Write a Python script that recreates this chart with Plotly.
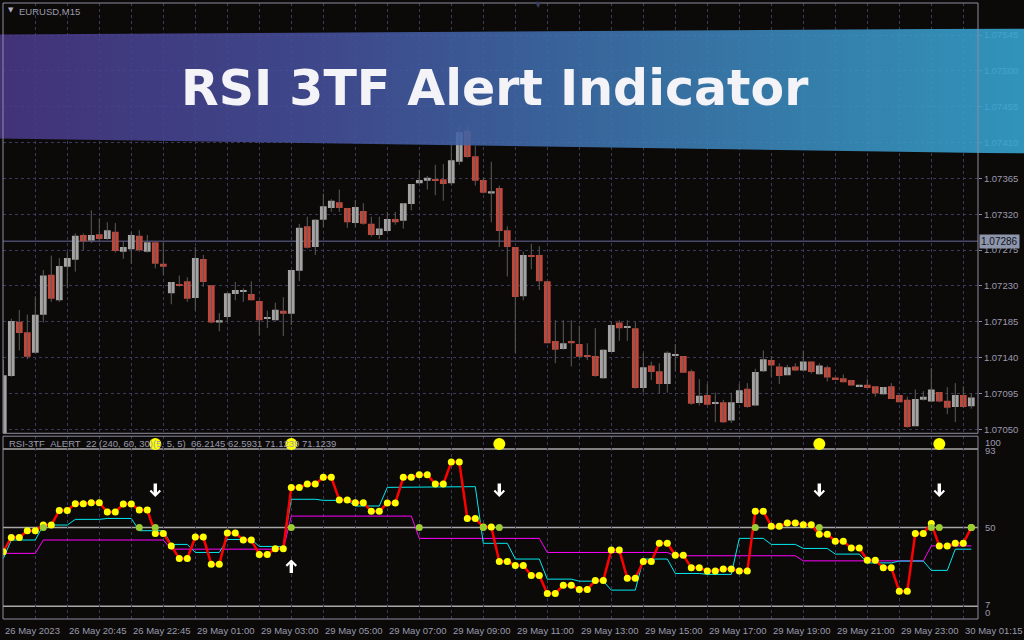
import base64
import plotly.graph_objects as go

# ---------------- data ----------------
bars = list(range(122))

open_ = [1.07030,1.07117,1.07185,1.07172,1.07146,1.07194,1.07244,1.07212,1.07254,1.07263,
         1.07294,1.07287,1.07295,1.07289,1.07298,1.07273,1.07276,1.07293,1.07273,1.07285,
         1.07258,1.07221,1.07232,1.07236,1.07215,1.07264,1.07231,1.07184,1.07191,1.07220,
         1.07223,1.07220,1.07211,1.07189,1.07187,1.07199,1.07195,1.07249,1.07305,1.07279,
         1.07313,1.07328,1.07335,1.07328,1.07309,1.07324,1.07308,1.07294,1.07299,1.07314,
         1.07312,1.07333,1.07359,1.07362,1.07364,1.07364,1.07359,1.07386,1.07425,1.07393,
         1.07363,1.07346,1.07353,1.07300,1.07279,1.07217,1.07268,1.07269,1.07236,1.07161,
         1.07151,1.07161,1.07157,1.07143,1.07142,1.07114,1.07147,1.07184,1.07178,1.07177,
         1.07102,1.07130,1.07123,1.07107,1.07143,1.07142,1.07123,1.07083,1.07093,1.07083,
         1.07084,1.07061,1.07083,1.07101,1.07080,1.07123,1.07137,1.07129,1.07118,1.07129,
         1.07124,1.07135,1.07119,1.07128,1.07115,1.07114,1.07112,1.07103,1.07106,1.07104,
         1.07094,1.07104,1.07093,1.07087,1.07054,1.07087,1.07085,1.07097,1.07086,1.07078,
         1.07093,1.07079]
high = [1.07137,1.07189,1.07200,1.07194,1.07217,1.07250,1.07268,1.07265,1.07273,1.07296,
        1.07296,1.07325,1.07315,1.07310,1.07309,1.07286,1.07298,1.07300,1.07294,1.07285,
        1.07285,1.07235,1.07243,1.07241,1.07279,1.07269,1.07231,1.07196,1.07221,1.07235,
        1.07227,1.07236,1.07212,1.07199,1.07209,1.07216,1.07250,1.07308,1.07317,1.07314,
        1.07346,1.07339,1.07351,1.07328,1.07338,1.07334,1.07317,1.07317,1.07323,1.07323,
        1.07334,1.07358,1.07376,1.07368,1.07382,1.07383,1.07407,1.07431,1.07431,1.07406,
        1.07366,1.07386,1.07356,1.07305,1.07279,1.07273,1.07283,1.07280,1.07236,1.07187,
        1.07187,1.07187,1.07180,1.07158,1.07177,1.07150,1.07185,1.07187,1.07187,1.07185,
        1.07146,1.07135,1.07133,1.07148,1.07157,1.07142,1.07125,1.07113,1.07107,1.07096,
        1.07087,1.07096,1.07107,1.07108,1.07126,1.07149,1.07142,1.07133,1.07131,1.07133,
        1.07149,1.07135,1.07133,1.07130,1.07115,1.07119,1.07112,1.07106,1.07113,1.07104,
        1.07103,1.07108,1.07093,1.07091,1.07100,1.07098,1.07127,1.07097,1.07103,1.07108,
        1.07104,1.07095]
low = [1.07024,1.07116,1.07149,1.07138,1.07145,1.07184,1.07210,1.07210,1.07227,1.07248,
       1.07275,1.07284,1.07286,1.07288,1.07272,1.07264,1.07258,1.07273,1.07272,1.07252,
       1.07244,1.07207,1.07229,1.07210,1.07199,1.07229,1.07183,1.07173,1.07185,1.07212,
       1.07210,1.07212,1.07168,1.07177,1.07187,1.07167,1.07181,1.07236,1.07277,1.07269,
       1.07304,1.07323,1.07323,1.07303,1.07304,1.07307,1.07292,1.07289,1.07298,1.07307,
       1.07302,1.07325,1.07359,1.07351,1.07344,1.07337,1.07357,1.07382,1.07391,1.07356,
       1.07346,1.07310,1.07279,1.07242,1.07146,1.07212,1.07251,1.07225,1.07158,1.07133,
       1.07150,1.07129,1.07140,1.07137,1.07116,1.07114,1.07147,1.07161,1.07161,1.07101,
       1.07096,1.07112,1.07095,1.07096,1.07123,1.07121,1.07081,1.07080,1.07081,1.07059,
       1.07058,1.07058,1.07083,1.07077,1.07080,1.07122,1.07116,1.07107,1.07118,1.07123,
       1.07124,1.07120,1.07119,1.07110,1.07112,1.07109,1.07105,1.07103,1.07102,1.07091,
       1.07093,1.07088,1.07084,1.07052,1.07054,1.07086,1.07085,1.07084,1.07069,1.07059,
       1.07077,1.07076]
close = [1.07118,1.07186,1.07171,1.07141,1.07194,1.07243,1.07214,1.07255,1.07265,1.07293,
         1.07286,1.07294,1.07289,1.07300,1.07274,1.07279,1.07294,1.07275,1.07285,1.07258,
         1.07254,1.07235,1.07230,1.07214,1.07265,1.07235,1.07184,1.07187,1.07221,1.07225,
         1.07224,1.07212,1.07187,1.07191,1.07200,1.07195,1.07250,1.07303,1.07278,1.07313,
         1.07330,1.07337,1.07328,1.07310,1.07329,1.07308,1.07294,1.07302,1.07314,1.07310,
         1.07334,1.07358,1.07363,1.07366,1.07362,1.07358,1.07388,1.07423,1.07392,1.07362,
         1.07347,1.07349,1.07299,1.07279,1.07216,1.07269,1.07267,1.07236,1.07158,1.07150,
         1.07158,1.07158,1.07141,1.07141,1.07117,1.07150,1.07181,1.07177,1.07178,1.07102,
         1.07128,1.07122,1.07107,1.07146,1.07144,1.07121,1.07082,1.07092,1.07081,1.07083,
         1.07059,1.07084,1.07099,1.07078,1.07122,1.07138,1.07130,1.07117,1.07128,1.07124,
         1.07135,1.07122,1.07130,1.07115,1.07113,1.07109,1.07105,1.07106,1.07102,1.07095,
         1.07103,1.07088,1.07084,1.07053,1.07088,1.07091,1.07100,1.07085,1.07077,1.07093,
         1.07078,1.07090]

rsi_m30 = [36.8,44.6,44.6,48.3,48.3,51.4,51.4,59.4,59.4,63.1,
           63.1,63.6,63.6,58.5,58.5,62.9,62.9,59.6,59.6,46.8,
           46.8,39.9,33.1,33.1,44.8,44.8,29.9,29.9,47.0,47.0,
           43.2,43.2,35.3,35.3,38.4,38.4,72.0,72.0,73.8,73.8,
           77.5,77.5,65.1,65.1,63.6,63.6,59.0,59.0,63.4,63.4,
           77.5,77.5,78.9,78.9,73.8,73.8,85.9,85.9,55.0,55.0,
           50.3,50.3,31.5,31.5,29.3,29.3,23.8,23.8,14.0,14.0,
           18.5,18.5,16.2,16.2,21.1,21.1,37.7,37.7,22.3,22.3,
           31.5,31.5,41.4,41.4,34.9,34.9,28.0,28.0,26.2,26.2,
           27.3,27.3,26.2,26.2,59.0,59.0,50.8,50.8,52.5,52.5,
           51.5,51.5,46.4,46.4,42.6,42.6,38.8,38.8,32.2,32.2,
           28.0,28.0,15.2,15.2,46.8,46.8,52.3,39.9,39.9,41.4,
           41.4,50.1]
rsi_h1 = [33.1,43.2,43.2,43.2,43.2,51.4,51.4,51.4,51.4,54.5,
          54.5,54.5,54.5,55.0,55.0,55.0,55.0,48.3,48.3,48.3,
          48.3,40.8,40.8,40.8,36.4,36.4,36.4,36.4,43.5,43.5,
          43.5,43.5,39.7,39.7,39.7,39.7,65.5,65.5,65.5,65.5,
          64.9,64.9,64.9,64.9,61.8,61.8,61.8,61.8,72.0,72.0,
          72.0,72.0,72.0,72.0,72.0,72.0,72.4,72.4,72.4,72.4,
          41.4,41.4,41.4,41.4,32.8,32.8,32.8,32.8,21.8,21.8,
          21.8,21.8,20.7,20.7,20.7,20.7,15.8,15.8,15.8,15.8,
          32.8,32.8,32.8,32.8,24.9,24.9,24.9,24.9,24.4,24.4,
          24.4,24.4,44.1,44.1,44.1,44.1,40.8,40.8,40.8,40.8,
          38.6,38.6,38.6,38.6,35.5,35.5,35.5,35.5,30.7,30.7,
          30.7,30.7,31.7,31.7,31.7,31.7,26.6,26.6,26.6,38.2,
          38.2,38.2]
rsi_h4 = [35.9,35.9,35.9,35.9,35.9,43.2,43.2,43.2,43.2,43.2,
          43.2,43.2,43.2,43.2,43.2,43.2,43.2,43.2,43.2,43.2,
          43.2,38.2,38.2,38.2,38.2,38.2,38.2,38.2,38.2,38.2,
          38.2,38.2,38.2,38.2,38.2,38.2,56.3,56.3,56.3,56.3,
          56.3,56.3,56.3,56.3,56.3,56.3,56.3,56.3,56.3,56.3,
          56.3,56.3,44.1,44.1,44.1,44.1,44.1,44.1,44.1,44.1,
          44.1,44.1,44.1,44.1,44.1,44.1,44.1,44.1,36.4,36.4,
          36.4,36.4,36.4,36.4,36.4,36.4,36.4,36.4,36.4,36.4,
          36.4,36.4,36.4,36.4,34.6,34.6,34.6,34.6,34.6,34.6,
          34.6,34.6,34.6,34.6,34.6,34.6,34.6,34.6,34.6,34.6,
          31.8,31.8,31.8,31.8,31.8,31.8,31.8,31.8,31.8,31.8,
          31.8,31.8,31.8,31.8,31.8,31.8,40.0,40.0,40.0,40.0,
          40.0,40.0]

cross_bars = [5, 17, 19, 36, 52, 60, 62, 94, 102, 116, 117, 121]
cross_vals = [50, 50, 50, 50, 50, 50, 50, 50, 50, 50, 50, 50]
alert_bars = [19, 36, 62, 102, 117]
alert_vals = [95.7, 95.7, 95.7, 95.7, 95.7]
down_bars = [19, 62, 102, 117]
down_vals = [66.7, 66.7, 66.7, 66.7]
up_bars = [36]
up_vals = [32.6]

price_ticks = [1.07050, 1.07095, 1.07140, 1.07185, 1.07230, 1.07275, 1.07320,
               1.07365, 1.07410, 1.07455, 1.07500, 1.07545]
price_tick_text = ["1.07050", "1.07095", "1.07140", "1.07185", "1.07230", "1.07275",
                   "1.07320", "1.07365", "1.07410", "1.07455", "1.07500", "1.07545"]
last_price = 1.07286
last_price_text = "1.07286"
rsi_levels = [93, 50, 7]
rsi_axis_vals = [100, 93, 50, 7, 0]
rsi_axis_text = ["100", "93", "50", "7", "0"]
time_bars = [0, 8, 16, 24, 32, 40, 48, 56, 64, 72, 80, 88, 96, 104, 112, 120]
time_labels = ["26 May 2023", "26 May 20:45", "26 May 22:45", "29 May 01:00",
               "29 May 03:00", "29 May 05:00", "29 May 07:00", "29 May 09:00",
               "29 May 11:00", "29 May 13:00", "29 May 15:00", "29 May 17:00",
               "29 May 19:00", "29 May 21:00", "29 May 23:00", "30 May 01:15"]
grid_bars = list(range(4, 121, 4))

# ---------------- layout helpers ----------------
W, H = 1024, 640
ML, MR, MT, MB = 3, 46, 3, 21
PW = W - ML - MR
PH = H - MT - MB


def pxx(x):
    return (x - ML) / PW


def pxy(y):
    return (H - MB - y) / PH


BG = "#0c0a08"
GRID = "#3a3a5a"
FRAME = "#8c8ca0"
LABEL = "#9a9aae"
FONT = "Liberation Sans"
UP = "#a3a3a3"
DOWN = "#c0473a"
WICK = "#5c5c5c"

fig = go.Figure()

# wicks
wx, wy = [], []
for i, lo, hi in zip(bars, low, high):
    wx += [i, i, None]
    wy += [lo, hi, None]
fig.add_trace(go.Scatter(x=wx, y=wy, mode="lines", line=dict(color=WICK, width=1),
                         xaxis="x", yaxis="y", hoverinfo="skip"))

# bodies
base = [min(o, c) for o, c in zip(open_, close)]
height = [max(abs(c - o), 0.000011) for o, c in zip(open_, close)]
colors = [UP if c >= o else DOWN for o, c in zip(open_, close)]
fig.add_trace(go.Bar(x=bars, y=height, base=base, width=0.84,
                     marker=dict(color=colors, line=dict(width=0)),
                     xaxis="x", yaxis="y", hoverinfo="skip"))

# RSI lines
fig.add_trace(go.Scatter(x=bars, y=rsi_h4, mode="lines", line=dict(color="#ff00ff", width=1),
                         xaxis="x2", yaxis="y2", hoverinfo="skip"))
fig.add_trace(go.Scatter(x=bars, y=rsi_h1, mode="lines", line=dict(color="#00e8f0", width=1),
                         xaxis="x2", yaxis="y2", hoverinfo="skip"))
fig.add_trace(go.Scatter(x=bars, y=rsi_m30, mode="lines+markers",
                         line=dict(color="#ff0000", width=2.5),
                         marker=dict(color="#ffff00", size=7, line=dict(width=0)),
                         xaxis="x2", yaxis="y2", hoverinfo="skip"))
fig.add_trace(go.Scatter(x=cross_bars, y=cross_vals, mode="markers",
                         marker=dict(color="#9acd32", size=7, line=dict(width=0)),
                         xaxis="x2", yaxis="y2", hoverinfo="skip"))
fig.add_trace(go.Scatter(x=alert_bars, y=alert_vals, mode="markers",
                         marker=dict(color="#ffff00", size=12, line=dict(width=0)),
                         xaxis="x2", yaxis="y2", hoverinfo="skip"))

shapes = []
# price line
shapes.append(dict(type="line", xref="paper", x0=0, x1=1, yref="y", y0=last_price, y1=last_price,
                   line=dict(color="#48486a", width=1.5), layer="between"))
# RSI level lines
for lv in rsi_levels:
    shapes.append(dict(type="line", xref="paper", x0=0, x1=1, yref="y2", y0=lv, y1=lv,
                       line=dict(color="#a8a8a8", width=1.5), layer="between"))
# panel frames
main_bottom = pxy(433.3)
rsi_top = pxy(436.2)
shapes.append(dict(type="rect", xref="paper", yref="paper", x0=0, x1=1, y0=main_bottom, y1=1,
                   line=dict(color=FRAME, width=1), layer="above"))
shapes.append(dict(type="rect", xref="paper", yref="paper", x0=0, x1=1, y0=0, y1=rsi_top,
                   line=dict(color=FRAME, width=1), layer="above"))

annotations = []
lab_font = dict(family=FONT, size=9.5, color=LABEL)
# time labels
for b, t in zip(time_bars, time_labels):
    annotations.append(dict(x=b, xref="x2", y=pxy(630), yref="paper", text=t, showarrow=False,
                            xanchor="left", yanchor="middle", xshift=0, font=lab_font))
# RSI axis labels
rsi_label_y = [442, 450, 527.5, 604, 612]
for v, t, yy in zip(rsi_axis_vals, rsi_axis_text, rsi_label_y):
    annotations.append(dict(x=pxx(983), xref="paper", y=pxy(yy), yref="paper", text=t,
                            showarrow=False, xanchor="left", yanchor="middle", font=lab_font))
# last price box
annotations.append(dict(x=pxx(979), xref="paper", y=last_price, yref="y", text=last_price_text,
                        showarrow=False, xanchor="left", yanchor="middle", bgcolor="#8e96ac",
                        borderpad=1, font=dict(family=FONT, size=10, color="#10121c")))
# RSI header
annotations.append(dict(x=pxx(7), xref="paper", y=pxy(444), yref="paper",
                        text="RSI-3TF_ALERT_22 (240, 60, 30)(5, 5, 5)  66.2145 62.5931 71.1239 71.1239",
                        showarrow=False, xanchor="left", yanchor="middle", font=lab_font))
# symbol header
annotations.append(dict(x=pxx(6), xref="paper", y=pxy(10), yref="paper", text="▼",
                        showarrow=False, xanchor="left", yanchor="middle",
                        font=dict(family="DejaVu Sans", size=7, color="#b0b0c0")))
annotations.append(dict(x=pxx(17), xref="paper", y=pxy(11), yref="paper", text="EURUSD,M15",
                        showarrow=False, xanchor="left", yanchor="middle", font=lab_font))
annotations.append(dict(x=pxx(538), xref="paper", y=pxy(4), yref="paper", text="▼",
                        showarrow=False, xanchor="center", yanchor="middle",
                        font=dict(family="DejaVu Sans", size=8, color="#3c3c5e")))
# arrows
for b, v in zip(down_bars, down_vals):
    annotations.append(dict(x=b, xref="x2", y=v, yref="y2", text="", showarrow=True,
                            ax=0, ay=-15, arrowhead=4, arrowsize=0.56, arrowwidth=3.4,
                            arrowcolor="#ffffff"))
for b, v in zip(up_bars, up_vals):
    annotations.append(dict(x=b, xref="x2", y=v, yref="y2", text="", showarrow=True,
                            ax=0, ay=15, arrowhead=4, arrowsize=0.56, arrowwidth=3.4,
                            arrowcolor="#ffffff"))
# banner title
annotations.append(dict(x=pxx(495), xref="paper", y=pxy(88), yref="paper",
                        text="<b>RSI 3TF Alert Indicator</b>", showarrow=False,
                        xanchor="center", yanchor="middle",
                        font=dict(family="DejaVu Sans", size=49, color="#f3f3f8")))

# banner gradient (image)
svg = ('<svg xmlns="http://www.w3.org/2000/svg" width="1024" height="125" viewBox="0 0 1024 125" '
       'preserveAspectRatio="none"><defs><linearGradient id="g" x1="0" y1="0" x2="1" y2="0">'
       '<stop offset="0" stop-color="#4a3888"/><stop offset="0.33" stop-color="#45529e"/>'
       '<stop offset="0.66" stop-color="#3d7eb6"/><stop offset="1" stop-color="#37a7d3"/>'
       '</linearGradient></defs><polygon points="0,6 1024,0 1024,125 0,110" fill="url(#g)"/></svg>')
src = "data:image/svg+xml;base64," + base64.b64encode(svg.encode()).decode()
images = [dict(source=src, xref="paper", yref="paper", x=pxx(0), y=pxy(28.5),
               sizex=W / PW, sizey=125 / PH, sizing="stretch", xanchor="left", yanchor="top",
               layer="above", opacity=0.88)]

xr = [-0.0375, -0.0375 + PW / 8.0]
xcommon = dict(range=xr, tickvals=grid_bars, showticklabels=False, ticks="", showgrid=True,
               gridcolor=GRID, griddash="3px,3px", gridwidth=1, zeroline=False, showline=False,
               fixedrange=True)

fig.update_layout(
    width=W, height=H, margin=dict(l=ML, r=MR, t=MT, b=MB),
    paper_bgcolor=BG, plot_bgcolor=BG, showlegend=False, hovermode=False,
    xaxis=dict(domain=[0, 1], anchor="y", **xcommon),
    xaxis2=dict(domain=[0, 1], anchor="y2", matches="x", **xcommon),
    yaxis=dict(domain=[main_bottom, 1], anchor="x", side="right",
               range=[1.07045, 1.075853], tickvals=price_ticks, ticktext=price_tick_text,
               tickfont=lab_font, ticks="outside", ticklen=3, tickcolor=FRAME,
               showgrid=True, gridcolor=GRID, griddash="3px,3px", gridwidth=1,
               zeroline=False, showline=False, fixedrange=True),
    yaxis2=dict(domain=[0, rsi_top], anchor="x2", range=[0, 100], showticklabels=False,
                showgrid=False, zeroline=False, showline=False, ticks="", fixedrange=True),
    shapes=shapes, annotations=annotations, images=images,
)

fig.write_html("out.html", config={"displayModeBar": False},
               post_script="document.body.style.margin='0';document.body.style.background='#0c0a08';")
